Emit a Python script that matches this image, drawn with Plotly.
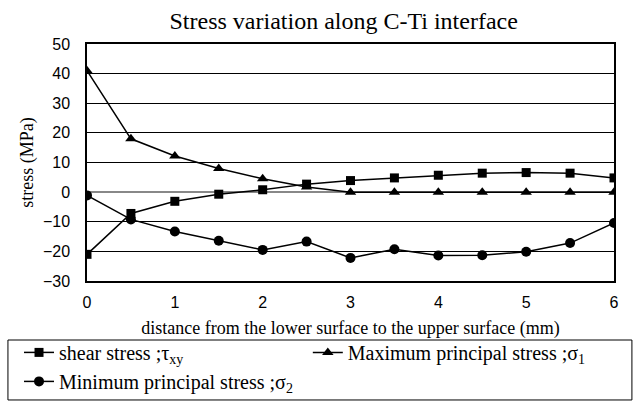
import plotly.graph_objects as go

x_mm = [0, 0.5, 1, 1.5, 2, 2.5, 3, 3.5, 4, 4.5, 5, 5.5, 6]
shear_stress = [-21, -7.2, -3.1, -0.7, 0.8, 2.7, 3.9, 4.8, 5.7, 6.4, 6.6, 6.4, 4.8]
max_principal = [41, 18, 12.2, 8, 4.5, 1.7, 0, 0, 0, 0, 0, 0, 0]
min_principal = [-1.1, -9.2, -13.3, -16.4, -19.5, -16.7, -22.2, -19.3, -21.4, -21.3, -20.1, -17.2, -10.4]

series_names = ["shear stress ;τ<sub>xy</sub>",
                "Maximum principal stress ;σ<sub>1</sub>",
                "Minimum principal stress ;σ<sub>2</sub>"]
y_ticks = [-30, -20, -10, 0, 10, 20, 30, 40, 50]
x_ticks = [0, 1, 2, 3, 4, 5, 6]

fig = go.Figure()
line = dict(color="black", width=1.5)
fig.add_trace(go.Scatter(x=x_mm, y=shear_stress, mode="lines+markers", name=series_names[0],
                         line=line, marker=dict(symbol="square", size=9, color="black"),
                         legend="legend"))
fig.add_trace(go.Scatter(x=x_mm, y=max_principal, mode="lines+markers", name=series_names[1],
                         line=line, marker=dict(symbol="triangle-up", size=10, color="black"),
                         legend="legend2"))
fig.add_trace(go.Scatter(x=x_mm, y=min_principal, mode="lines+markers", name=series_names[2],
                         line=line, marker=dict(symbol="circle", size=10, color="black"),
                         legend="legend"))

serif = "Liberation Serif, Times New Roman, serif"
sans = "Liberation Sans, Arial, sans-serif"
legend_font = dict(family=serif, size=20, color="black")

fig.update_layout(
    width=640, height=418,
    margin=dict(l=87, r=26, t=44, b=137, autoexpand=False),
    paper_bgcolor="white", plot_bgcolor="white",
    title=dict(text="Stress variation along C-Ti interface", xref="container", x=0.537,
               xanchor="center", yref="container", y=0.95, yanchor="middle",
               font=dict(family=serif, size=24, color="black")),
    xaxis=dict(range=[0, 6], tickvals=x_ticks, showgrid=False, zeroline=False,
               showline=True, linecolor="black", linewidth=1.5, mirror=True,
               ticks="", ticklabelstandoff=6, automargin=False,
               tickfont=dict(family=sans, size=16, color="black"),
               title=dict(text="distance from the lower surface to the upper surface (mm)",
                          font=dict(family=serif, size=18, color="black"), standoff=11)),
    yaxis=dict(range=[-30, 50], tickvals=y_ticks, showgrid=True, gridcolor="black", gridwidth=1,
               zeroline=True, zerolinecolor="#888888", zerolinewidth=1.5,
               showline=True, linecolor="black", linewidth=1.5, mirror=True, automargin=False,
               ticks="", ticklabelstandoff=12, tickfont=dict(family=sans, size=16, color="black"),
               title=dict(text="stress (MPa)", font=dict(family=serif, size=18, color="black"),
                          standoff=5)),
    showlegend=True,
    legend=dict(orientation="v", x=-0.129, xanchor="left",
                y=-0.219, yanchor="top", traceorder="normal", font=legend_font,
                tracegroupgap=0, bgcolor="rgba(0,0,0,0)", itemwidth=30),
    legend2=dict(orientation="v", x=0.419, xanchor="left",
                 y=-0.219, yanchor="top", font=legend_font, bgcolor="rgba(0,0,0,0)",
                 itemwidth=30),
    shapes=[dict(type="rect", xref="paper", yref="paper", x0=-0.15, x1=1.034,
                 y0=-0.502, y1=-0.249, line=dict(color="black", width=1))],
)

fig.write_html("out.html", config={"displayModeBar": False},
               post_script="document.body.style.margin='0px';")
